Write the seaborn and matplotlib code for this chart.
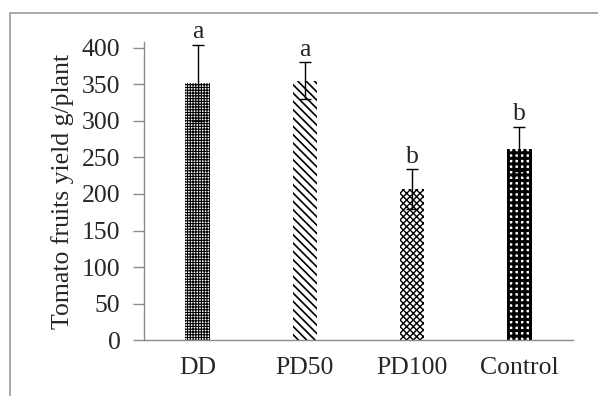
import matplotlib
matplotlib.use('Agg')
import matplotlib.pyplot as plt
import seaborn as sns
from matplotlib.patches import Rectangle

# Data
treatments = ['DD', 'PD50', 'PD100', 'Control']
yield_mean = [352, 355, 207, 262]
yield_err = [52, 25, 27, 30]
letters = ['a', 'a', 'b', 'b']
hatches = ['++++++', '\\\\\\\\', 'xxxxx', '+++']
hatch_lw = [0.8, 1.2, 1.0, 2.2]

sns.set_style('white')
plt.rcParams['font.family'] = ['Liberation Serif', 'DejaVu Serif']
plt.rcParams['hatch.linewidth'] = 1.2

fig = plt.figure(figsize=(5.98, 3.96), dpi=100)
ax = fig.add_axes([0.241, 0.141, 0.717, 0.753])

sns.barplot(x=treatments, y=yield_mean, color='white', width=0.23,
            edgecolor='black', linewidth=0, ax=ax)
for p, h, lw in zip(ax.patches, hatches, hatch_lw):
    p.set_hatch(h)
    try:
        p.set_hatch_linewidth(lw)
    except AttributeError:
        p._hatch_linewidth = lw

ax.errorbar(range(len(treatments)), yield_mean, yerr=yield_err, fmt='none',
            ecolor='black', elinewidth=1, capsize=4.5, capthick=1)

for i, (m, e, l) in enumerate(zip(yield_mean, yield_err, letters)):
    ax.text(i, m + e + 2, l, ha='center', va='bottom', fontsize=18.5)

ax.set_ylim(0, 408)
ax.set_xlim(-0.5, 3.5)
ax.set_yticks(range(0, 401, 50))
ax.set_xticks([-0.5, 0.5, 1.5, 2.5, 3.5], minor=False)
ax.set_xticklabels([])
ax.set_xticks(range(4), minor=True)
ax.set_xticklabels(treatments, minor=True)
ax.tick_params(axis='x', which='major', length=8, color='#8c8c8c', width=1)
ax.tick_params(axis='x', which='minor', length=0, labelsize=18.5, pad=12)
ax.tick_params(axis='y', length=8, color='#8c8c8c', width=1, labelsize=18.5,
               left=True, pad=9)
ax.set_ylabel('Tomato fruits yield g/plant', fontsize=18.5, labelpad=6)

sns.despine(ax=ax)
for s in ['left', 'bottom']:
    ax.spines[s].set_color('#8c8c8c')
    ax.spines[s].set_linewidth(1)

# outer frame
fig.add_artist(Rectangle((10 / 598, -0.2), 1.2, 1.2 - 13 / 396, fill=False,
                         edgecolor='#999999', linewidth=1.2, transform=fig.transFigure))

fig.savefig('out.png', dpi=100)
